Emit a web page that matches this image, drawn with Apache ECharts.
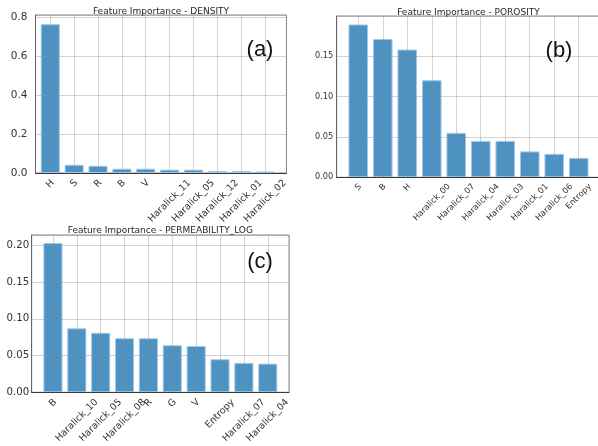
<!DOCTYPE html>
<html>
<head>
<meta charset="utf-8">
<script src="https://cdn.jsdelivr.net/npm/echarts@6/dist/echarts.min.js"></script>
<style>
  html, body { margin: 0; padding: 0; background: #fff; }
  #chart { width: 598px; height: 446px; }
</style>
</head>
<body>
<div id="chart"></div>
<script>
// Random-forest feature importances for the three target properties
const densityFeatures = ['H', 'S', 'R', 'B', 'V', 'Haralick_11', 'Haralick_05', 'Haralick_12', 'Haralick_01', 'Haralick_02'];
const densityImportance = [0.763, 0.042, 0.037, 0.022, 0.022, 0.017, 0.017, 0.010, 0.010, 0.008];

const porosityFeatures = ['S', 'B', 'H', 'Haralick_00', 'Haralick_07', 'Haralick_04', 'Haralick_03', 'Haralick_01', 'Haralick_06', 'Entropy'];
const porosityImportance = [0.189, 0.171, 0.158, 0.120, 0.055, 0.045, 0.045, 0.032, 0.029, 0.024];

const permFeatures = ['B', 'Haralick_10', 'Haralick_05', 'Haralick_08', 'R', 'G', 'V', 'Entropy', 'Haralick_07', 'Haralick_04'];
const permImportance = [0.203, 0.087, 0.081, 0.0735, 0.0735, 0.064, 0.063, 0.045, 0.040, 0.039];

// y tick labels of each panel
const densityTicks = ['0.0', '0.2', '0.4', '0.6', '0.8'];
const porosityTicks = ['0.00', '0.05', '0.10', '0.15'];
const permTicks = ['0.00', '0.05', '0.10', '0.15', '0.20'];

const FONT = '"DejaVu Sans", sans-serif';
const BAR_COLOR = '#4c92c3';
const BAR_EDGE = '#a3c8e5';
const GRID_LINE = 'rgba(140,140,140,0.38)';

const panels = [
  { title: 'Feature Importance - DENSITY', tag: '(a)', names: densityFeatures, values: densityImportance, ticks: densityTicks,
    box: { left: 35.5, top: 15, width: 251, height: 158 }, xMin: -0.62, xMax: 9.9, yMax: 0.81, yStep: 0.2,
    yFont: 10.5, xFont: 9.5, yGap: 8, titleY: 11.5, tagX: 260, tagY: 50 },
  { title: 'Feature Importance - POROSITY', tag: '(b)', names: porosityFeatures, values: porosityImportance, ticks: porosityTicks,
    box: { left: 336.7, top: 16, width: 263.6, height: 161.3 }, xMin: -0.88, xMax: 9.88, yMax: 0.1995, yStep: 0.05,
    yFont: 8.2, xFont: 8.3, yGap: 3.5, titleY: 12.3, tagX: 559, tagY: 51 },
  { title: 'Feature Importance - PERMEABILITY_LOG', tag: '(c)', names: permFeatures, values: permImportance, ticks: permTicks,
    box: { left: 31.7, top: 235, width: 257.3, height: 157.3 }, xMin: -0.89, xMax: 9.89, yMax: 0.214, yStep: 0.05,
    yFont: 10.2, xFont: 9.5, yGap: 2.5, titleY: 230.7, tagX: 260, tagY: 262 }
];

const measureCtx = document.createElement('canvas').getContext('2d');
function textWidth(str, size) {
  measureCtx.font = size + 'px ' + FONT;
  return measureCtx.measureText(str).width;
}

const grids = [], xAxes = [], yAxes = [], series = [], graphics = [];

panels.forEach((p, i) => {
  grids.push({
    left: p.box.left, top: p.box.top, width: p.box.width, height: p.box.height,
    show: true, borderColor: '#8a8a8a', borderWidth: 1, backgroundColor: 'transparent',
    containLabel: false, outerBoundsMode: 'none'
  });

  // Rotated labels are centred under their tick: shift each one right
  // by 0.354 * its width (along-text and across-text offsets of 0.25 * width).
  const rich = {};
  p.names.forEach((n, k) => {
    const w = textWidth(n, p.xFont);
    rich['t' + k] = {
      fontFamily: FONT, fontSize: p.xFont, color: '#333',
      padding: [0.5 * w, -0.25 * w, 0, 0]
    };
  });

  xAxes.push({
    type: 'value', gridIndex: i, min: p.xMin, max: p.xMax, minInterval: 1, maxInterval: 1, z: 3,
    axisLine: { show: true, onZero: false, lineStyle: { color: '#3a3a3a', width: 1 } },
    axisTick: { show: false },
    splitLine: { show: true, lineStyle: { color: GRID_LINE, width: 1 } },
    axisLabel: {
      rotate: 45, margin: 5 + 0.354 * p.xFont, fontFamily: FONT, fontSize: p.xFont, color: '#333',
      hideOverlap: false, rich: rich,
      formatter: (v) => {
        const k = Math.round(v);
        if (Math.abs(v - k) > 1e-6 || k < 0 || k >= p.names.length) return '';
        return '{t' + k + '|' + p.names[k] + '}';
      }
    }
  });

  const tickVals = p.ticks.map(Number);
  yAxes.push({
    type: 'value', gridIndex: i, min: 0, max: p.yMax, interval: p.yStep, z: 3,
    axisLine: { show: true, onZero: false, lineStyle: { color: '#666', width: 1 } },
    axisTick: { show: false },
    splitLine: { show: true, lineStyle: { color: GRID_LINE, width: 1 } },
    axisLabel: {
      margin: p.yGap, fontFamily: FONT, fontSize: p.yFont, color: '#333', hideOverlap: false,
      formatter: (v) => {
        const j = tickVals.findIndex(t => Math.abs(t - v) < 1e-9);
        return j >= 0 ? p.ticks[j] : '';
      }
    }
  });

  const pxPerUnit = p.box.width / (p.xMax - p.xMin);
  series.push({
    type: 'bar', xAxisIndex: i, yAxisIndex: i, z: 2, silent: true,
    barWidth: pxPerUnit * 0.8,
    data: p.values.map((v, k) => [k, v]),
    itemStyle: { color: BAR_COLOR, borderColor: BAR_EDGE, borderWidth: 1 }
  });

  graphics.push({
    type: 'text', x: p.box.left + p.box.width / 2, y: p.titleY, z: 10,
    style: { text: p.title, font: '9px ' + FONT, fill: '#262626', align: 'center', verticalAlign: 'middle' }
  });
  graphics.push({
    type: 'text', x: p.tagX, y: p.tagY, z: 10,
    style: { text: p.tag, font: '22px "Liberation Sans", Arial, sans-serif', fill: '#111', align: 'center', verticalAlign: 'middle' }
  });
});

const chart = echarts.init(document.getElementById('chart'), null, { renderer: 'canvas' });
chart.setOption({
  animation: false,
  backgroundColor: '#fff',
  grid: grids,
  xAxis: xAxes,
  yAxis: yAxes,
  series: series,
  graphic: graphics
});
</script>
</body>
</html>
